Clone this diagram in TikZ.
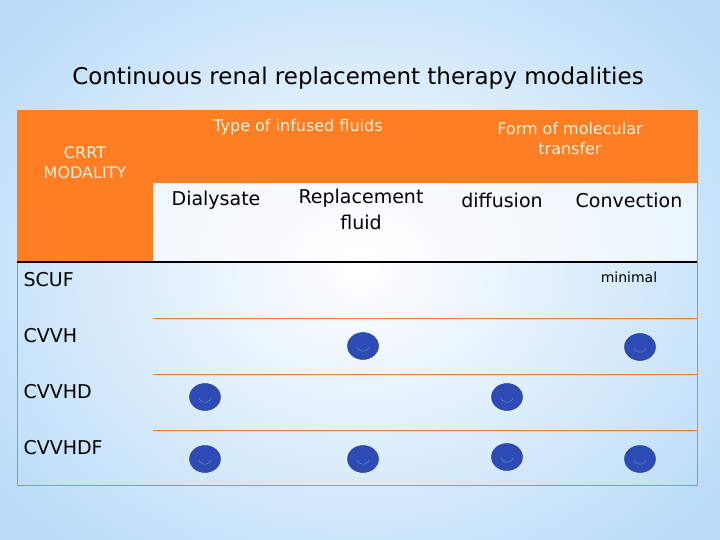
\documentclass[tikz,border=0pt]{standalone}
\usepackage{fontspec}
\setmainfont{DejaVu Sans}
\usetikzlibrary{shapes.geometric}
\definecolor{org}{RGB}{253,126,35}
\definecolor{bgb}{RGB}{185,220,248}
\definecolor{dot}{RGB}{45,75,180}
\definecolor{txt}{RGB}{252,240,220}
\tikzset{
 hdr/.style={text=txt,font=\fontsize{16}{20}\selectfont,align=center},
 sub/.style={font=\fontsize{19}{26}\selectfont,align=center},
 row/.style={anchor=west,font=\fontsize{19}{22}\selectfont},
 smile/.style={ellipse,fill=dot,draw=dot!70!black,minimum width=31pt,minimum height=27pt,inner sep=0pt}
}
\newcommand{\smiley}[2]{\node[smile] (#1) at (#2) {};
 \draw[dot!60!white,line width=0.4pt] ([shift={(-6pt,-1pt)}]#1.center) arc[start angle=200,end angle=340,radius=6.4pt];}
\begin{document}
\begin{tikzpicture}[x=1pt,y=-1pt]
\useasboundingbox (0,0) rectangle (720,540);
\shade[inner color=white,outer color=bgb] (-100,-100) rectangle (820,640);
\node[font=\fontsize{23}{26}\selectfont] (title) at (358,78) {Continuous renal replacement therapy modalities};
\fill[org] (17,110) rectangle (697,183);
\fill[org] (17,183) rectangle (153,262);
\fill[white,opacity=0.6] (153,183) rectangle (697,262);
\draw[org,line width=0.6pt] (17,110) rectangle (697,485);
\foreach \yy in {318,374,430} \draw[org,line width=0.6pt] (153,\yy) -- (697,\yy);
\draw[black,line width=1.2pt] (17,262) -- (697,262);
\node[hdr] (crrt) at (85,163) {CRRT\\MODALITY};
\node[hdr] (type) at (298,127) {Type of infused fluids};
\node[hdr] (form) at (570,139) {Form of molecular\\transfer};
\node[sub] (dia) at (216,200) {Dialysate};
\node[sub,anchor=north] (rep) at (361,186) {Replacement\\fluid};
\node[sub] (dif) at (502,200) {diffusion};
\node[sub] (con) at (629,200) {Convection};
\node[row] (scuf) at (20,280) {SCUF};
\node[row] (cvvh) at (20,336) {CVVH};
\node[row] (cvvhd) at (20,392) {CVVHD};
\node[row] (cvvhdf) at (20,448) {CVVHDF};
\node[font=\fontsize{14}{16}\selectfont] (min) at (629,277) {minimal};
\smiley{a1}{363,346}
\smiley{a2}{640,347}
\smiley{b1}{205,397}
\smiley{b2}{507,397}
\smiley{c1}{205,459}
\smiley{c2}{363,459}
\smiley{c3}{507,457}
\smiley{c4}{640,459}
\end{tikzpicture}
\end{document}
